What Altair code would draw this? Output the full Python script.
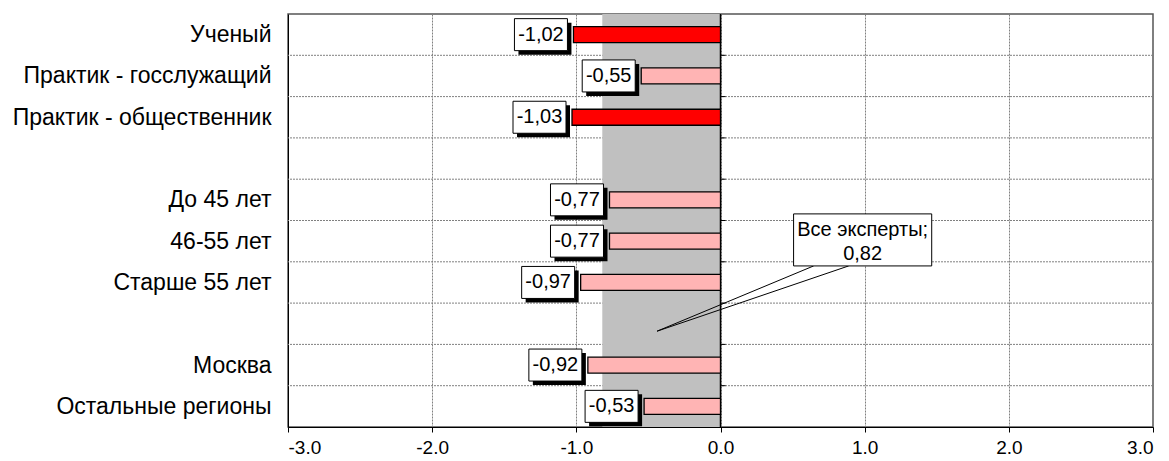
import json
import altair as alt
import pandas as pd

categories = ["Ученый", "Практик - госслужащий", "Практик - общественник", "",
              "До 45 лет", "46-55 лет", "Старше 55 лет", "",
              "Москва", "Остальные регионы"]
values = [-1.02, -0.55, -1.03, None, -0.77, -0.77, -0.97, None, -0.92, -0.53]
highlight = [True, False, True, False, False, False, False, False, False, False]
all_experts = -0.82
callout_text = ["Все эксперты;", "0,82"]
x_ticks = [-3, -2, -1, 0, 1, 2, 3]

FONT = "Liberation Sans"
FS = 19
FS_BOX = 20
FS_Y = 23

rows = []
for i, (c, v, h) in enumerate(zip(categories, values, highlight)):
    if v is None:
        continue
    rows.append({"cat": c, "pos": i + 0.5, "v": v,
                 "label": f"{v:.2f}".replace(".", ","),
                 "kind": "red" if h else "pink"})
df = pd.DataFrame(rows)
bounds = pd.DataFrame({"b": list(range(1, len(categories)))})

xs = alt.Scale(domain=[-3, 3], nice=False, zero=False)
ys = alt.Scale(domain=[0, len(categories)], reverse=True, nice=False, zero=False)

label_pos = [i + 0.5 for i, v in enumerate(values) if v is not None]
label_expr = json.dumps(categories, ensure_ascii=False) + "[floor(datum.value)]"

base = alt.Chart(df)

hgrid = alt.Chart(bounds).mark_rule(color="#808080", strokeDash=[2, 1], strokeWidth=1).encode(
    y=alt.Y("b:Q", scale=ys, axis=alt.Axis(values=label_pos, labelExpr=label_expr, title=None,
                                           grid=False, ticks=False, domain=True, domainColor="#000000",
                                           labelFont=FONT, labelFontSize=FS_Y, labelColor="#000000",
                                           labelLimit=600, labelPadding=17))
)

band = alt.Chart(pd.DataFrame({"a": [all_experts], "z": [0]})).mark_rect(color="#C0C0C0").encode(
    x=alt.X("a:Q", scale=xs, axis=alt.Axis(values=x_ticks, title=None,
                                          labelExpr="(datum.value < 0 ? '-' : '') + format(abs(datum.value), '.1f')",
                                          grid=True, gridColor="#808080", gridDash=[2, 1],
                                          domainColor="#000000", tickColor="#000000", tickSize=5,
                                          labelFont=FONT, labelFontSize=FS, labelColor="#000000",
                                          labelPadding=6)),
    x2="z:Q",
)

zero = alt.Chart(pd.DataFrame({"z": [0]})).mark_rule(color="#000000", strokeWidth=1.5).encode(
    x=alt.X("z:Q", scale=xs)
)

zticks = alt.Chart(bounds).mark_rule(color="#000000", strokeWidth=1, x2Offset=5).encode(
    x=alt.datum(0, scale=xs), x2=alt.datum(0), y=alt.Y("b:Q", scale=ys)
)

bars = base.mark_rect(stroke="#000000", strokeWidth=1.3, yOffset=-8, y2Offset=8).encode(
    x=alt.X("v:Q", scale=xs), x2=alt.datum(0),
    y=alt.Y("pos:Q", scale=ys), y2="pos:Q",
    color=alt.Color("kind:N", scale=alt.Scale(domain=["red", "pink"], range=["#FF0000", "#FFB4B4"]),
                    legend=None),
)

shadow = base.mark_rect(color="#000000", xOffset=-55, x2Offset=-2, yOffset=-12, y2Offset=20).encode(
    x=alt.X("v:Q", scale=xs), x2="v:Q", y=alt.Y("pos:Q", scale=ys), y2="pos:Q"
)
box = base.mark_rect(fill="#FFFFFF", stroke="#000000", strokeWidth=1, xOffset=-59, x2Offset=-6,
                     yOffset=-16, y2Offset=16).encode(
    x=alt.X("v:Q", scale=xs), x2="v:Q", y=alt.Y("pos:Q", scale=ys), y2="pos:Q"
)
text = base.mark_text(font=FONT, fontSize=FS_BOX, color="#000000", xOffset=-32.5, baseline="middle").encode(
    x=alt.X("v:Q", scale=xs), y=alt.Y("pos:Q", scale=ys), text="label:N"
)

wedge_df = pd.DataFrame({"x0": [0.646, 0.889], "y0": [6.10, 6.10],
                         "x1": [-0.44, -0.44], "y1": [7.68, 7.68]})
wedge = alt.Chart(wedge_df).mark_rule(color="#000000", strokeWidth=1).encode(
    x=alt.X("x0:Q", scale=xs), x2="x1:Q", y=alt.Y("y0:Q", scale=ys), y2="y1:Q"
)
cbox_df = pd.DataFrame({"x0": [0.507], "x1": [1.465], "y0": [4.84], "y1": [6.10],
                        "xc": [0.986], "yc": [5.22], "t": [callout_text]})
cbox = alt.Chart(cbox_df).mark_rect(fill="#FFFFFF", stroke="#000000", strokeWidth=1).encode(
    x=alt.X("x0:Q", scale=xs), x2="x1:Q", y=alt.Y("y0:Q", scale=ys), y2="y1:Q"
)
ctext = alt.Chart(cbox_df).mark_text(font=FONT, fontSize=FS_BOX, color="#000000", baseline="middle",
                                     lineHeight=24).encode(
    x=alt.X("xc:Q", scale=xs), y=alt.Y("yc:Q", scale=ys), text="t"
)

chart = alt.layer(hgrid, band, zero, zticks, bars, shadow, box, text, wedge, cbox, ctext).properties(
    width=865, height=413,
    padding={"left": 4, "top": 5, "right": 5, "bottom": 5},
    background="#FFFFFF",
).configure_view(stroke="#555555", strokeWidth=1.5)

chart.save("out.html", embed_options={"renderer": "svg", "actions": False})
